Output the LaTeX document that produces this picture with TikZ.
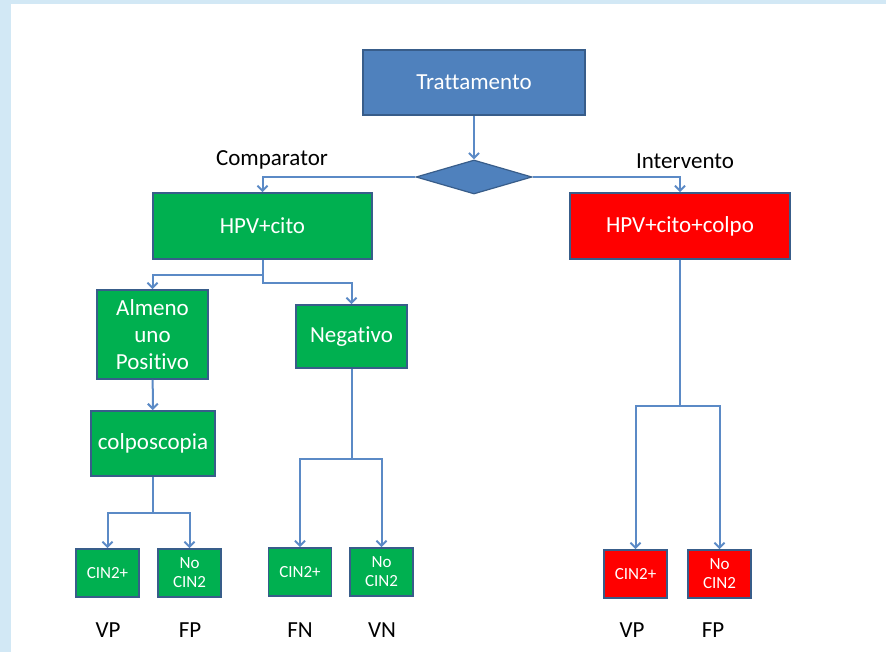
\documentclass[tikz,border=0pt]{standalone}
\usepackage{fontspec}
\setmainfont[Ligatures=NoCommon]{Carlito}
\usetikzlibrary{shapes.geometric,arrows.meta}
\definecolor{tblue}{HTML}{4F81BD}
\definecolor{tline}{HTML}{385D8A}
\definecolor{tgreen}{HTML}{00B050}
\definecolor{tred}{HTML}{FF0000}
\definecolor{conn}{HTML}{5B8AC6}
\definecolor{bgblue}{HTML}{D2E8F5}

\begin{document}
\begin{tikzpicture}[x=1pt,y=-1pt,
  every node/.style={inner sep=0pt,text=white,font=\fontsize{23}{27}\selectfont},
  box/.style={draw=tline,line width=1.8pt,minimum width=#1},
  small/.style={draw=tline,line width=1.8pt,minimum width=63pt,minimum height=48pt,
    align=center,font=\fontsize{17}{19}\selectfont},
  lab/.style={text=black,font=\fontsize{23}{26}\selectfont},
  arr/.style={conn,line width=2pt,-{Straight Barb[length=5pt,width=10pt]}}]
\useasboundingbox (0,0) rectangle (886,652);
\fill[bgblue] (0,0) rectangle (886,652);
\fill[white] (11,4) rectangle (886,652);
% top of the tree
\node[box=222pt,minimum height=65pt,fill=tblue] (trat) at (474,82.5) {Trattamento};
\node[diamond,draw=tline,line width=1.2pt,fill=tblue,minimum width=116pt,minimum height=34pt] (dia) at (474,177) {};
\node[box=219pt,minimum height=66pt,fill=tgreen] (hpv) at (262.5,226) {HPV+cito};
\node[box=220pt,minimum height=66pt,fill=tred] (colpo) at (680,226) {HPV+cito+colpo};
\node[lab] (comp) at (272,160) {Comparator};
\node[lab] (interv) at (685,161) {Intervento};
% comparator branch
\node[box=111pt,minimum height=89pt,fill=tgreen,align=center] (alm) at (152.5,334.5) {Almeno\\uno\\Positivo};
\node[box=111pt,minimum height=63pt,fill=tgreen] (neg) at (351.5,336.5) {Negativo};
\node[box=124pt,minimum height=65pt,fill=tgreen] (colp) at (153,443.5) {colposcopia};
% leaves
\foreach \n/\x/\y/\c/\t in {a1/107.5/573/tgreen/CIN2+,a2/189.5/573/tgreen/No\\CIN2,
  b1/300/572/tgreen/CIN2+,b2/381.5/572/tgreen/No\\CIN2,
  c1/635.5/574/tred/CIN2+,c2/719.5/574/tred/No\\CIN2} {
  \node[small,fill=\c] (\n) at (\x,\y) {\t};
}
\foreach \x/\t in {108/VP,190/FP,300/FN,382/VN,632/VP,713/FP} {
  \node[lab] (l\t\x) at (\x,630) {\t};
}
% connectors
\draw[arr] (trat) -- (dia);
\draw[arr] (dia.west) -| (hpv.north);
\draw[arr] (dia.east) -| (colpo.north);
\draw[arr] (hpv.south) -- ++(0,15) -| (alm.north);
\draw[arr] (hpv.south) -- ++(0,23) -| (neg.north);
\draw[arr] (alm) -- (colp);
\draw[arr] (colp.south) -- ++(0,36) -| (a1.north);
\draw[arr] (colp.south) -- ++(0,36) -| (a2.north);
\draw[arr] (neg.south) -- ++(0,90) -| (b1.north);
\draw[arr] (neg.south) -- ++(0,90) -| (b2.north);
\draw[arr] (colpo.south) -- ++(0,146) -| (c1.north);
\draw[arr] (colpo.south) -- ++(0,146) -| (c2.north);
\end{tikzpicture}
\end{document}
